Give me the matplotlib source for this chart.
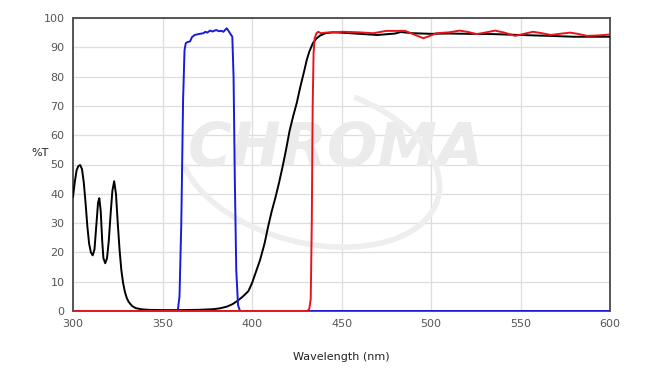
import matplotlib
matplotlib.use("Agg")
import matplotlib.pyplot as plt
from matplotlib.patches import Arc

# black curve (filter 1)
black_wl = [300, 301, 302, 303, 304, 305, 306, 307, 308, 309, 310, 311, 312, 313,
            314, 314.7, 315.5, 316.3, 317, 318, 319, 320, 321, 322, 323, 324, 325,
            326, 327, 328, 329, 330, 331, 333, 335, 338, 342, 350, 360, 370, 378,
            382, 386, 389, 392, 395, 398, 400, 402, 404.5, 407, 409, 411, 413, 415,
            417, 419, 421, 423, 425, 427, 429, 430.6, 432, 434, 436, 438, 441, 445,
            450, 460, 470, 480, 483, 490, 500, 510, 520, 535, 550, 566, 580, 600]
black_t = [39, 44, 48, 49.5, 49.8, 48.5, 44, 37, 29, 23, 20, 19, 21, 29,
           37, 38.5, 34, 24, 18, 16.3, 18, 24, 33, 41, 44.3, 40, 30,
           21, 14, 9.5, 6.5, 4.5, 3.2, 1.7, 1.0, 0.6, 0.4, 0.3, 0.3, 0.4, 0.6,
           0.9, 1.5, 2.3, 3.5, 5, 6.8, 9.5, 13, 17.4, 23, 28.8, 34, 38.5, 43.5,
           49, 55, 61.5, 66.5, 71, 76.5, 81.5, 85.7, 88.5, 91.4, 93, 94, 94.8, 95.1,
           95, 94.6, 94.2, 94.7, 95.2, 94.8, 94.6, 94.7, 94.6, 94.5, 94.2, 93.9, 93.6, 93.6]

# blue curve (filter 2)
blue_wl = [300, 358.5, 359.5, 360.5, 361.5, 362.3, 363, 364, 365.4, 366.5, 368, 370,
           372.8, 374, 375, 376.5, 378, 380, 381.5, 383, 384, 385.9, 387, 387.7,
           389, 389.7, 390.4, 391.2, 392.2, 393.3, 600]
blue_t = [0, 0, 5, 30, 72, 89, 91.4, 91.8, 92, 93.5, 94.2, 94.5,
          94.8, 95.3, 95, 95.7, 95.4, 95.9, 95.5, 95.6, 95.3, 96.5, 95.5, 94.8,
          93.6, 80, 45, 14, 2, 0, 0]

# red curve (filter 3)
red_wl = [300, 431, 432, 432.8, 433.4, 433.9, 434.4, 435, 436, 437, 438.5, 441, 451,
          460, 467.8, 475, 485.5, 490, 495.7, 499, 503, 510, 516, 521, 525.5, 530,
          535.8, 541, 547, 552, 557, 562, 567, 572, 577.6, 582, 587, 592, 597, 600]
red_t = [0, 0, 0.8, 4, 30, 70, 88, 93, 94.8, 95.3, 94.8, 95, 95.3,
         95.1, 94.8, 95.6, 95.6, 94.5, 93.1, 93.8, 94.8, 95.1, 95.7, 95.2, 94.5, 95,
         95.7, 95, 93.9, 94.6, 95.3, 94.8, 94.2, 94.6, 95, 94.6, 93.9, 94, 94.2, 94.4]

x_ticks = [300, 350, 400, 450, 500, 550, 600]
y_ticks = list(range(0, 101, 10))

fig = plt.figure(figsize=(6.54, 3.78), dpi=100)
ax = fig.add_axes([73 / 654, 1 - 311 / 378, 537 / 654, 293 / 378])

# faint logo watermark
ax.text(0.49, 0.55, "CHROMA", transform=ax.transAxes, ha="center", va="center",
        fontsize=43, family="DejaVu Sans", weight="bold", style="italic",
        color="#ebebeb", zorder=1)
ax.add_patch(Arc((0.44, 0.5), 0.44, 0.6, angle=30, theta1=150, theta2=400,
                 transform=ax.transAxes, color="#eeeeee", lw=4, zorder=1))

ax.plot(black_wl, black_t, color="black", lw=1.4, zorder=3)
ax.plot(blue_wl, blue_t, color="#1a1adb", lw=1.4, zorder=4)
ax.plot(red_wl, red_t, color="#e8141b", lw=1.4, zorder=5)

ax.set_xlim(300, 600)
ax.set_ylim(0, 100)
ax.set_xticks(x_ticks)
ax.set_yticks(y_ticks)
ax.grid(True, color="#dddddd", lw=0.9, zorder=0)
ax.set_axisbelow(True)
ax.tick_params(length=0, labelsize=8, colors="#555555", pad=6)
for s in ax.spines.values():
    s.set_color("#555555")
    s.set_linewidth(1.4)

fig.text(40 / 654, 1 - 153 / 378, "%T", fontsize=8, ha="center", va="center", color="#222222")
fig.text(341 / 654, 1 - 357 / 378, "Wavelength (nm)", fontsize=8, ha="center", va="center",
         color="#222222")

fig.savefig("out.png", dpi=100, facecolor="white")
